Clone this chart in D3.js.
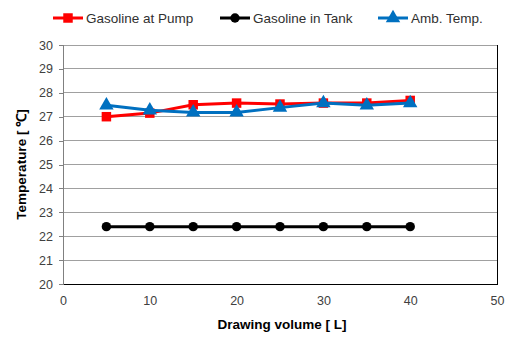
<!DOCTYPE html>
<html><head><meta charset="utf-8">
<script src="https://cdn.jsdelivr.net/npm/d3@7"></script>
<style>body{margin:0;background:#fff}svg{display:block}text{font-family:"Liberation Sans",Arial,sans-serif}</style>
</head><body>
<script>
const volumes = [5,10,15,20,25,30,35,40];
const pumpTemp = [27.0,27.15,27.5,27.57,27.53,27.57,27.57,27.68];
const tankTemp = [22.4,22.4,22.4,22.4,22.4,22.4,22.4,22.4];
const ambTemp  = [27.48,27.27,27.18,27.18,27.38,27.57,27.48,27.57];
const xTicks = [0,10,20,30,40,50];
const yTicks = [20,21,22,23,24,25,26,27,28,29,30];
const seriesNames = ["Gasoline at Pump","Gasoline in Tank","Amb. Temp."];
const seriesColors = ["#ff0000","#000000","#0070c0"];
const seriesShapes = ["square","circle","triangle"];
const seriesValues = [pumpTemp, tankTemp, ambTemp];

const W=509,H=338;
const svg=d3.select("body").append("svg").attr("width",W).attr("height",H);
const m={l:63,r:12,t:45,b:54};
const x=d3.scaleLinear().domain([0,50]).range([m.l,W-m.r]);
const y=d3.scaleLinear().domain([20,30]).range([H-m.b,m.t]);

// grid
svg.append("g").selectAll("line").data(yTicks.slice(1)).join("line")
 .attr("x1",x(0)).attr("x2",x(50)).attr("y1",d=>y(d)).attr("y2",d=>y(d))
 .attr("stroke","#a0a0a0").attr("stroke-width",1).attr("shape-rendering","crispEdges");
// right border
svg.append("line").attr("x1",x(50)).attr("x2",x(50)).attr("y1",y(30)).attr("y2",y(20))
 .attr("stroke","#000").attr("shape-rendering","crispEdges");

const yAx=svg.append("g").attr("transform",`translate(${x(0)},0)`)
 .call(d3.axisLeft(y).tickValues(yTicks).tickSize(4).tickPadding(6).tickFormat(d3.format("d")));
const xAx=svg.append("g").attr("transform",`translate(0,${y(20)})`)
 .call(d3.axisBottom(x).tickValues(xTicks).tickSize(0).tickPadding(12).tickFormat(d3.format("d")));
[yAx,xAx].forEach(a=>{
 a.select(".domain").attr("stroke","#808080").attr("shape-rendering","crispEdges");
 a.selectAll(".tick line").attr("stroke","#808080").attr("shape-rendering","crispEdges");
 a.selectAll("text").attr("font-size",12.5).attr("fill","#404040").attr("font-family","Liberation Sans, Arial, sans-serif");
});
xAx.select(".domain").attr("stroke","#000");

const sym={square:d3.symbolSquare,circle:d3.symbolCircle,triangle:d3.symbolTriangle};
const symSize={square:90,circle:70,triangle:90};
seriesValues.forEach((vals,i)=>{
 const pts=volumes.map((v,j)=>[v,vals[j]]);
 svg.append("path").datum(pts).attr("fill","none").attr("stroke",seriesColors[i]).attr("stroke-width",3)
  .attr("d",d3.line().x(d=>x(d[0])).y(d=>y(d[1])));
 svg.append("g").selectAll("path").data(pts).join("path")
  .attr("transform",d=>`translate(${x(d[0])},${y(d[1])})`)
  .attr("d",d3.symbol(sym[seriesShapes[i]],symSize[seriesShapes[i]])).attr("fill",seriesColors[i]);
});

// legend
const legX=[53,220,378];
const lg=svg.append("g");
seriesNames.forEach((n,i)=>{
 const g=lg.append("g").attr("transform",`translate(${legX[i]},18)`);
 g.append("line").attr("x1",0).attr("x2",30).attr("stroke",seriesColors[i]).attr("stroke-width",3);
 g.append("path").attr("transform","translate(15,0)").attr("d",d3.symbol(sym[seriesShapes[i]],symSize[seriesShapes[i]])).attr("fill",seriesColors[i]);
 g.append("text").attr("x",33).attr("y",5).attr("font-size",13.5).attr("fill","#303030").text(n);
});

svg.append("text").attr("x",(x(0)+x(50))/2+2).attr("y",329).attr("text-anchor","middle")
 .attr("font-size",13.5).attr("font-weight","bold").attr("fill","#000").text("Drawing volume [ L]");
svg.append("text").attr("transform",`translate(26,${y(25)}) rotate(-90)`).attr("text-anchor","middle")
 .attr("font-size",13.5).attr("font-weight","bold").attr("fill","#000").text("Temperature [ ℃]");
</script>
</body></html>
